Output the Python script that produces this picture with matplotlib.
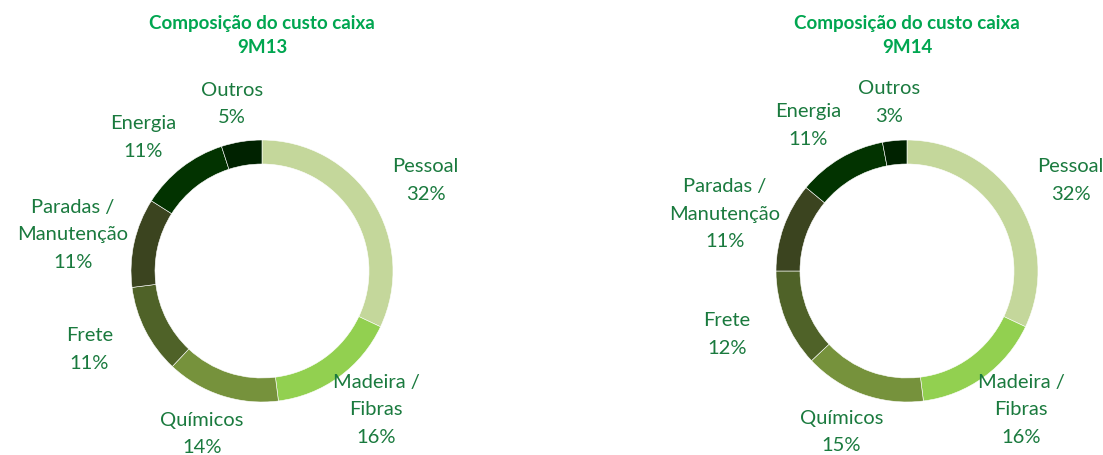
import numpy as np
import matplotlib.pyplot as plt

labels = ['Pessoal', 'Madeira /\nFibras', 'Químicos', 'Frete',
          'Paradas /\nManutenção', 'Energia', 'Outros']
vals_9m13 = [32, 16, 14, 11, 11, 11, 5]
vals_9m14 = [32, 16, 15, 12, 11, 11, 3]
periods = ['9M13', '9M14']
colors = ['#c4d79b', '#92d050', '#76923c', '#4f6228', '#3b441f', '#023300', '#002200']

title_color = '#00a650'
label_color = '#1a7a3e'

fig = plt.figure(figsize=(11.03, 4.56), dpi=100)
ax = fig.add_axes([0, 0, 1, 1])
ax.set_xlim(0, 1103)
ax.set_ylim(0, 456)
ax.set_aspect('equal')
ax.axis('off')

R = 131
centers = [(262, 184), (907, 184)]

for vals, period, (cx, cy) in zip([vals_9m13, vals_9m14], periods, centers):
    wedges, _ = ax.pie(vals, colors=colors, startangle=90, counterclock=False,
                       radius=R, center=(cx, cy),
                       wedgeprops=dict(width=24, edgecolor='white', linewidth=0.4))
    total = sum(vals)
    cum = 0
    for lab, v in zip(labels, vals):
        mid = 90 - (cum + v / 2) / total * 360
        cum += v
        a = np.deg2rad(mid)
        ax.text(cx + 1.48 * R * np.cos(a), cy + 1.3 * R * np.sin(a), f'{lab}\n{v}%',
                ha='center', va='center', color=label_color, fontsize=14.5,
                family='Lato', linespacing=1.75)
    ax.text(cx, 421, f'Composição do custo caixa\n{period}', ha='center', va='center',
            color=title_color, fontsize=13.5, fontweight='bold', family='Lato',
            linespacing=1.5)

ax.set_xlim(0, 1103)
ax.set_ylim(0, 456)
fig.savefig('out.png', dpi=100)
